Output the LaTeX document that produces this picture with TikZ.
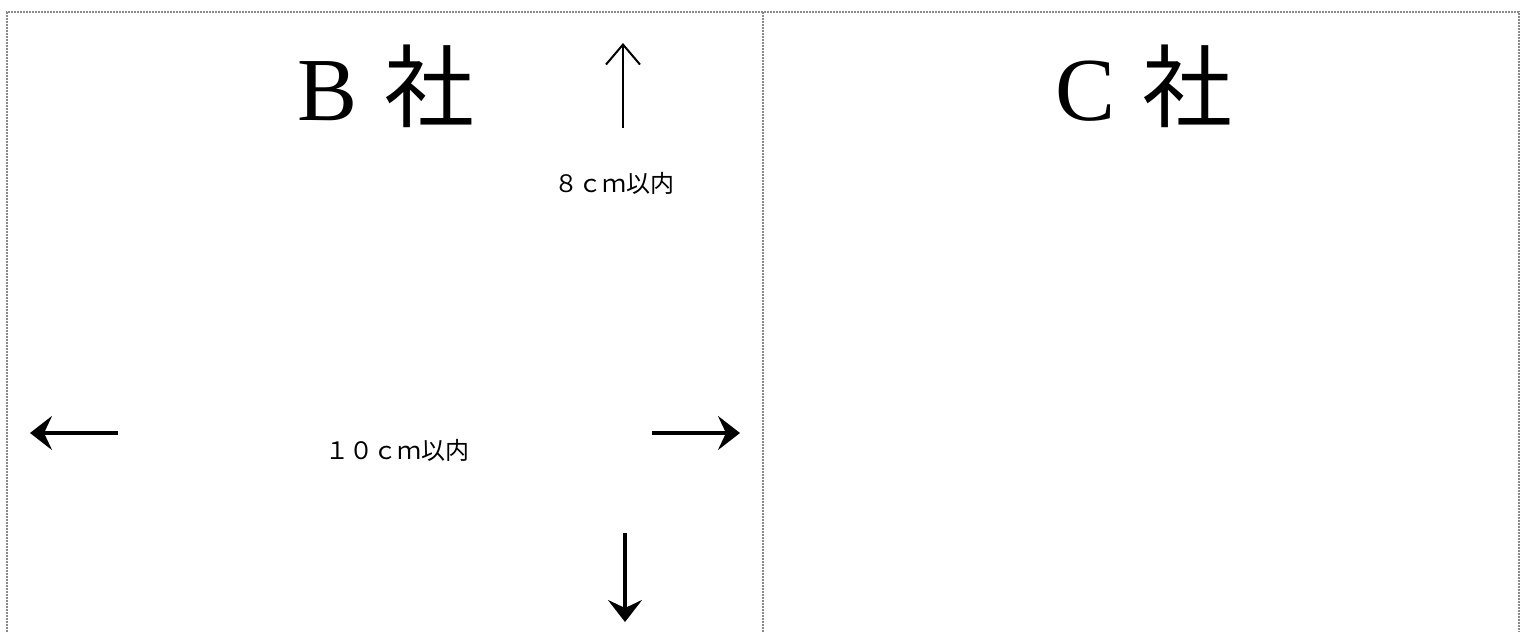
\documentclass[tikz,border=0pt]{standalone}
\usepackage{fontspec}
\setmainfont{Liberation Serif}
\newfontfamily\jpfont{Noto Sans CJK JP}
\definecolor{frameGray}{HTML}{8A8A8A}
\usepackage{tikz}
\usetikzlibrary{arrows.meta, positioning}

\begin{document}
\begin{tikzpicture}[
  x=0.5pt, y=-0.5pt,
  bigtext/.style={font=\fontsize{45}{50}\selectfont, inner sep=0pt},
  smalltext/.style={font=\fontsize{12}{14}\selectfont\jpfont, inner sep=0pt},
  thinarrow/.style={line width=1pt, -{Straight Barb[length=10pt, width=17pt]}},
  thickarrow/.style={line width=2pt, -{Stealth[length=11pt, width=17pt, inset=4pt]}},
  framedot/.style={frameGray, line width=0.6pt, dash pattern=on 1pt off 0.5pt}]
  \useasboundingbox (0,0) rectangle (1526,632);
  % Frame (open at the bottom)
  \draw[framedot] (7,632) -- (7,12) -- (1519,12) -- (1519,632);
  \draw[framedot] (763,12) -- (763,632);
  % Company names
  \node[bigtext] (bsha) at (386,86) {B\hspace{13pt}{\jpfont 社}};
  \node[bigtext] (csha) at (1144,86) {C\hspace{13pt}{\jpfont 社}};
  % Size limits
  \node[smalltext] (hlimit) at (614,183) {８ｃｍ以内};
  \node[smalltext] (wlimit) at (397,450) {１０ｃｍ以内};
  % Arrow ends
  \coordinate (upS) at (623,128);
  \coordinate (upE) at (623,43);
  \coordinate (leftS) at (118,433);
  \coordinate (leftE) at (30,433);
  \coordinate (rightS) at (652,433);
  \coordinate (rightE) at (740,433);
  \coordinate (downS) at (625,533);
  \coordinate (downE) at (625,622);
  \draw[thinarrow] (upS) -- (upE);
  \draw[thickarrow] (leftS) -- (leftE);
  \draw[thickarrow] (rightS) -- (rightE);
  \draw[thickarrow] (downS) -- (downE);
\end{tikzpicture}
\end{document}
